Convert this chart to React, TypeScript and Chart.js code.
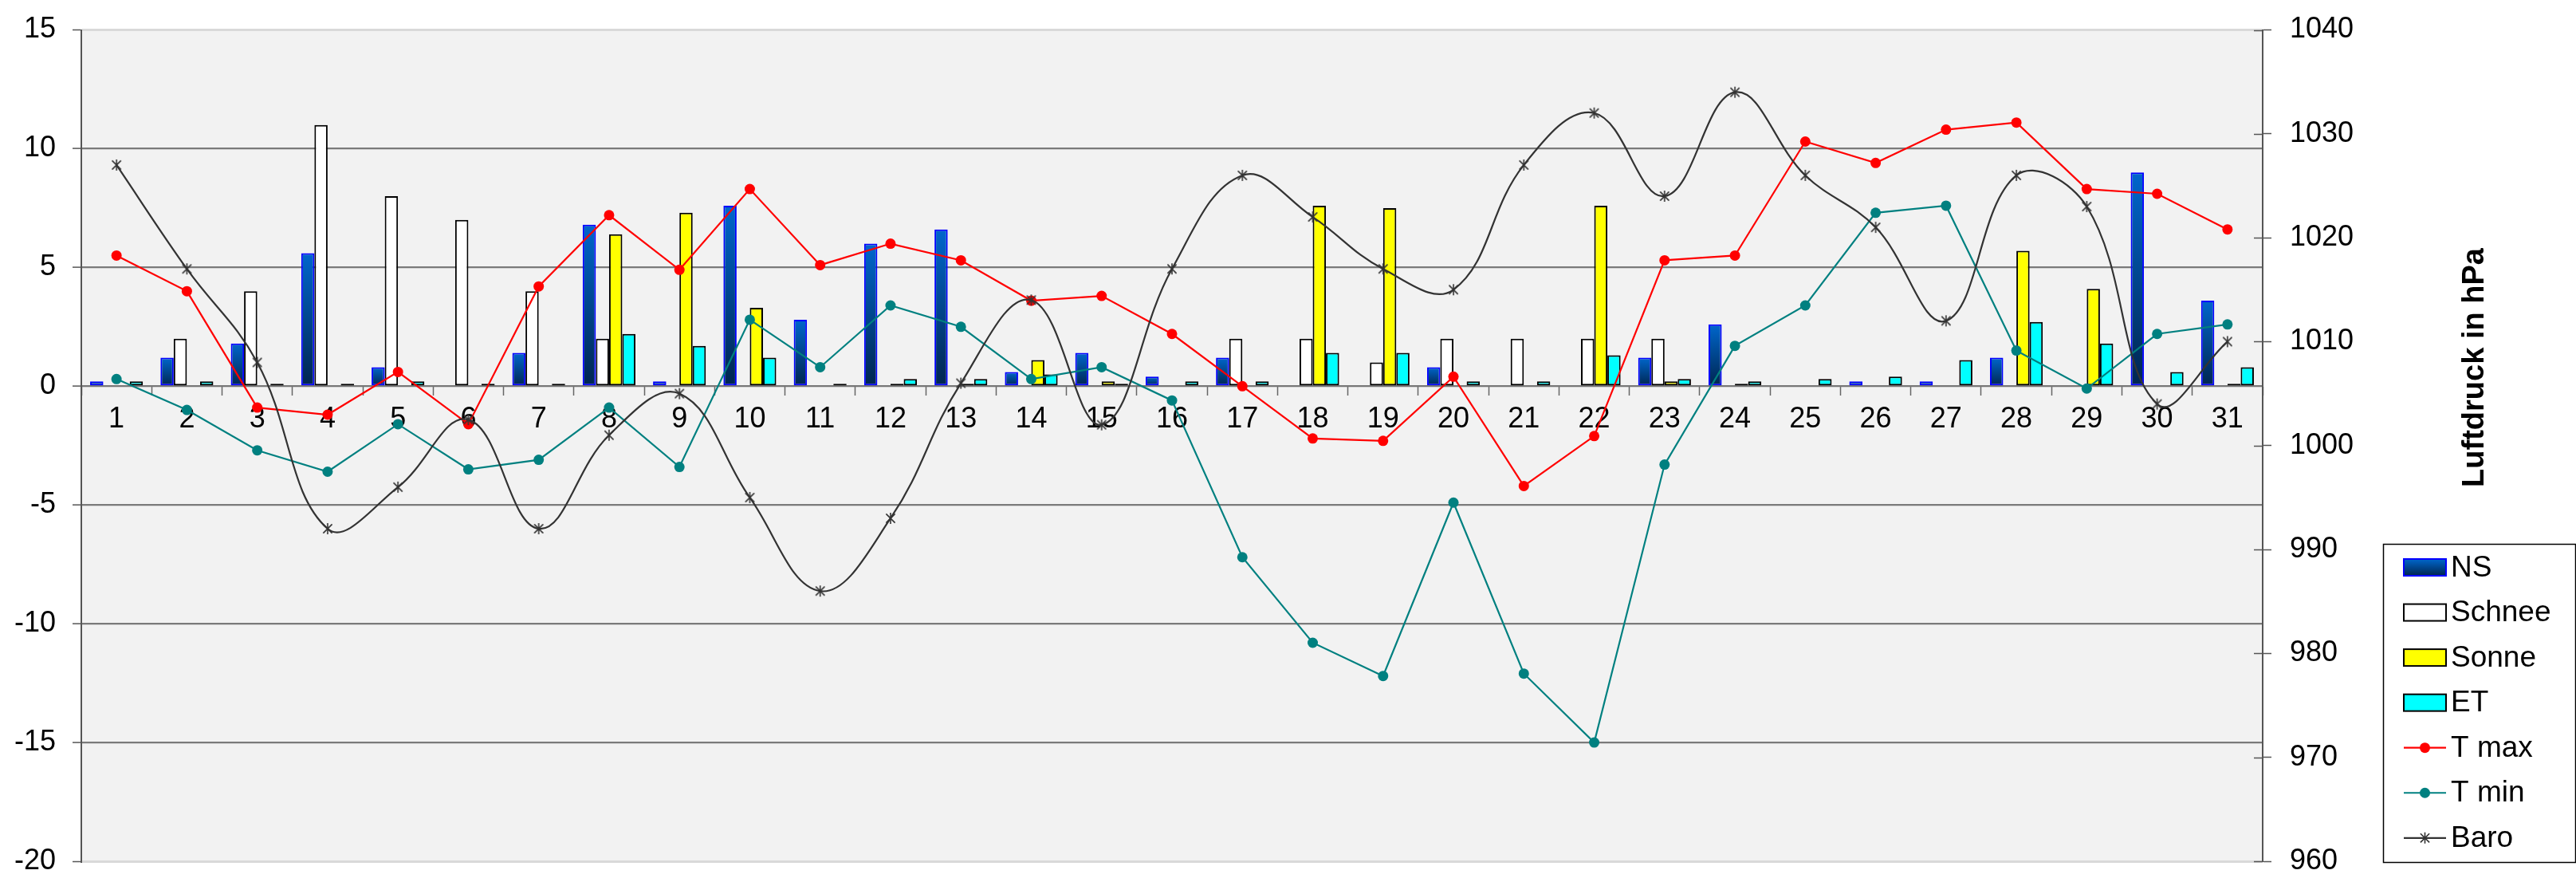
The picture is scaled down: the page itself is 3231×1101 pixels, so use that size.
import { useEffect, useRef } from 'react';
import { Chart, registerables } from 'chart.js';

Chart.register(...registerables);

const days = ['1','2','3','4','5','6','7','8','9','10','11','12','13','14','15','16','17','18','19','20','21','22','23','24','25','26','27','28','29','30','31'];

const nsValues = [0.2,1.2,1.8,5.6,0.8,0,1.4,6.8,0.2,7.6,2.8,6.0,6.6,0.6,1.4,0.4,1.2,0,0,0.8,0,0,1.2,2.6,0,0.2,0.2,1.2,0,9.0,3.6];
const schneeValues = [0,2,4,11,8,7,4,2,0,0,0,0,0,0,0,0,2,2,1,2,2,2,2,0,0,0,0,0,0,0,0];
const sonneValues = [0,0,0,0,0,0,0,6.4,7.3,3.3,0,0.1,0.1,1.1,0.2,0,0,7.6,7.5,0,0,7.6,0.2,0.1,0,0,0,5.7,4.1,0,0.1];
const etValues = [0.2,0.2,0.1,0.1,0.2,0.1,0.1,2.2,1.7,1.2,0.1,0.3,0.3,0.5,0.1,0.2,0.2,1.4,1.4,0.2,0.2,1.3,0.3,0.2,0.3,0.4,1.1,2.7,1.8,0.6,0.8];
const tMaxValues = [5.5,4.0,-0.9,-1.2,0.6,-1.6,4.2,7.2,4.9,8.3,5.1,6.0,5.3,3.6,3.8,2.2,0.0,-2.2,-2.3,0.4,-4.2,-2.1,5.3,5.5,10.3,9.4,10.8,11.1,8.3,8.1,6.6];
const tMinValues = [0.3,-1.0,-2.7,-3.6,-1.6,-3.5,-3.1,-0.9,-3.4,2.8,0.8,3.4,2.5,0.3,0.8,-0.6,-7.2,-10.8,-12.2,-4.9,-12.1,-15.0,-3.3,1.7,3.4,7.3,7.6,1.5,-0.1,2.2,2.6];
const baroValues = [1027,1017,1008,992,996,1002.5,992,1001,1005,995,986,993,1006,1014,1002,1017,1026,1022,1017,1015,1027,1032,1024,1034,1026,1021,1012,1026,1023,1004,1010];

const leftTicks = { min: -20, max: 15, step: 5 };
const rightTicks = { min: 960, max: 1040, step: 10 };
const rightAxisTitle = 'Luftdruck in hPa';

const FONT = "'Liberation Sans', Arial, sans-serif";
const NS_TOP = '#0066cc';
const NS_BOTTOM = '#00254f';
const BARO_COLOR = '#333333';

function nsGradient(ctx: any) {
  const chart = ctx.chart;
  const area = chart.chartArea;
  if (!area || ctx.type !== 'data') return NS_TOP;
  const v = ctx.raw as number;
  const y = chart.scales.y;
  const top = y.getPixelForValue(v);
  const base = y.getPixelForValue(0);
  if (!isFinite(top) || Math.abs(base - top) < 1) return NS_TOP;
  const g = chart.ctx.createLinearGradient(0, top, 0, base);
  g.addColorStop(0, NS_TOP);
  g.addColorStop(1, NS_BOTTOM);
  return g;
}

function drawStar(ctx: CanvasRenderingContext2D, x: number, y: number, r: number) {
  ctx.beginPath();
  ctx.moveTo(x, y - r); ctx.lineTo(x, y + r);
  const d = r * 0.8;
  ctx.moveTo(x - d, y - d); ctx.lineTo(x + d, y + d);
  ctx.moveTo(x - d, y + d); ctx.lineTo(x + d, y - d);
  ctx.stroke();
}

function makeStarImage(): HTMLCanvasElement {
  const c = document.createElement('canvas');
  c.width = 18; c.height = 18;
  const g = c.getContext('2d')!;
  g.strokeStyle = BARO_COLOR;
  g.lineWidth = 1.6;
  drawStar(g, 9, 9, 7);
  return c;
}

const bgPlugin = {
  id: 'bgPlugin',
  beforeDraw(chart: any) {
    const { ctx, chartArea } = chart;
    ctx.save();
    ctx.fillStyle = '#ffffff';
    ctx.fillRect(0, 0, chart.width, chart.height);
    ctx.fillStyle = '#f2f2f2';
    ctx.fillRect(chartArea.left, chartArea.top, chartArea.right - chartArea.left, chartArea.bottom - chartArea.top);
    ctx.restore();
  },
};

const innerTickPlugin = {
  id: 'innerTicks',
  afterDatasetsDraw(chart: any) {
    const s = chart.scales.y1;
    if (!s) return;
    const ctx = chart.ctx;
    ctx.save();
    ctx.strokeStyle = '#555';
    ctx.lineWidth = 1.5;
    s.ticks.forEach((t: any) => {
      const py = Math.round(s.getPixelForValue(t.value)) + 0.5;
      ctx.beginPath();
      ctx.moveTo(s.left - 11, py);
      ctx.lineTo(s.left, py);
      ctx.stroke();
    });
    ctx.restore();
  },
};

const titlePlugin = {
  id: 'rightTitle',
  afterDraw(chart: any) {
    const ctx = chart.ctx;
    ctx.save();
    ctx.translate(3105, 461);
    ctx.rotate(-Math.PI / 2);
    ctx.font = `bold 38px ${FONT}`;
    ctx.fillStyle = '#000';
    ctx.textAlign = 'center';
    ctx.textBaseline = 'middle';
    ctx.fillText(rightAxisTitle, 0, 0);
    ctx.restore();
  },
};

const legendPlugin = {
  id: 'boxLegend',
  afterDraw(chart: any) {
    const ctx: CanvasRenderingContext2D = chart.ctx;
    const bx = 2989, by = 682, bw = 241, bh = 399;
    ctx.save();
    ctx.fillStyle = '#ffffff';
    ctx.fillRect(bx, by, bw, bh);
    ctx.strokeStyle = '#000';
    ctx.lineWidth = 1.5;
    ctx.strokeRect(bx + 0.5, by + 0.5, bw, bh);
    const sx = 3015, sw = 53, sh = 21, step = 56.55, y0 = 711.5;
    ctx.font = `37px ${FONT}`;
    ctx.textBaseline = 'middle';
    ctx.textAlign = 'left';
    chart.data.datasets.forEach((ds: any, i: number) => {
      const cy = y0 + i * step;
      if (ds.type === 'bar') {
        if (ds.label === 'NS') {
          const g = ctx.createLinearGradient(0, cy - sh / 2, 0, cy + sh / 2);
          g.addColorStop(0, NS_TOP);
          g.addColorStop(1, NS_BOTTOM);
          ctx.fillStyle = g;
        } else {
          ctx.fillStyle = ds.backgroundColor;
        }
        ctx.fillRect(sx, cy - sh / 2, sw, sh);
        ctx.strokeStyle = ds.borderColor;
        ctx.lineWidth = 2;
        ctx.strokeRect(sx, cy - sh / 2, sw, sh);
      } else {
        ctx.strokeStyle = ds.borderColor;
        ctx.lineWidth = 2.2;
        ctx.beginPath();
        ctx.moveTo(sx, cy);
        ctx.lineTo(sx + sw, cy);
        ctx.stroke();
        if (ds.label === 'Baro') {
          ctx.lineWidth = 1.6;
          drawStar(ctx, sx + sw / 2, cy, 7);
        } else {
          ctx.fillStyle = ds.pointBackgroundColor;
          ctx.beginPath();
          ctx.arc(sx + sw / 2, cy, 6.5, 0, Math.PI * 2);
          ctx.fill();
        }
      }
      ctx.fillStyle = '#000';
      ctx.fillText(ds.label, 3074, cy + 1);
    });
    ctx.restore();
  },
};

export default function App() {
  const ref = useRef<HTMLCanvasElement>(null);
  useEffect(() => {
    if (!ref.current) return;
    const starImg = makeStarImage();
    const chart = new Chart(ref.current, {
      type: 'bar',
      data: {
        labels: days,
        datasets: [
          { type: 'bar', label: 'NS', data: nsValues, backgroundColor: nsGradient as any, borderColor: '#0000ff', borderWidth: 2, borderSkipped: false, yAxisID: 'y', order: 5, categoryPercentage: 0.75, barPercentage: 1.0 } as any,
          { type: 'bar', label: 'Schnee', data: schneeValues, backgroundColor: '#ffffff', borderColor: '#000000', borderWidth: 2, borderSkipped: false, yAxisID: 'y', order: 5, categoryPercentage: 0.75, barPercentage: 1.0 } as any,
          { type: 'bar', label: 'Sonne', data: sonneValues, backgroundColor: '#ffff00', borderColor: '#000000', borderWidth: 2, borderSkipped: false, yAxisID: 'y', order: 5, categoryPercentage: 0.75, barPercentage: 1.0 } as any,
          { type: 'bar', label: 'ET', data: etValues, backgroundColor: '#00ffff', borderColor: '#000000', borderWidth: 2, borderSkipped: false, yAxisID: 'y', order: 5, categoryPercentage: 0.75, barPercentage: 1.0 } as any,
          { type: 'line', label: 'T max', data: tMaxValues, borderColor: '#ff0000', backgroundColor: '#ff0000', pointBackgroundColor: '#ff0000', pointBorderColor: '#ff0000', pointRadius: 6.5, pointBorderWidth: 0, pointStyle: 'circle', borderWidth: 2.2, tension: 0, yAxisID: 'y', order: 2 } as any,
          { type: 'line', label: 'T min', data: tMinValues, borderColor: '#008080', backgroundColor: '#008080', pointBackgroundColor: '#008080', pointBorderColor: '#008080', pointRadius: 6.5, pointBorderWidth: 0, pointStyle: 'circle', borderWidth: 2.2, tension: 0, yAxisID: 'y', order: 1 } as any,
          { type: 'line', label: 'Baro', data: baroValues, borderColor: BARO_COLOR, backgroundColor: BARO_COLOR, pointStyle: starImg, pointRadius: 7, borderWidth: 2.2, tension: 0.4, yAxisID: 'y1', order: 0 } as any,
        ],
      },
      options: {
        animation: false,
        responsive: false,
        devicePixelRatio: 1,
        layout: { padding: { top: 37.5, bottom: 21, left: 0, right: 0 } },
        plugins: { legend: { display: false }, tooltip: { enabled: false }, title: { display: false } },
        scales: {
          x: {
            type: 'category',
            position: { y: 0 } as any,
            offset: true,
            grid: { offset: true, drawOnChartArea: false, drawTicks: true, tickLength: 11, tickColor: '#666', tickWidth: 1.5 },
            border: { display: true, color: '#777', width: 2 },
            ticks: { color: '#000', font: { size: 36, family: FONT }, padding: 9, maxRotation: 0, autoSkip: false },
          },
          y: {
            type: 'linear',
            position: 'left',
            min: leftTicks.min,
            max: leftTicks.max,
            ticks: { stepSize: leftTicks.step, color: '#000', font: { size: 36, family: FONT }, padding: 21 },
            grid: {
              color: (c: any) => (c.tick && (c.tick.value === leftTicks.max || c.tick.value === leftTicks.min) ? '#d9d9d9' : '#7a7a7a'),
              lineWidth: (c: any) => (c.tick && (c.tick.value === leftTicks.max || c.tick.value === leftTicks.min) ? 3 : 2.2),
              tickColor: '#555',
              tickLength: 11,
              tickWidth: 1.5,
            },
            border: { display: true, color: '#555', width: 2 },
            afterFit: (s: any) => { s.width = 102; s.paddingTop = 0; s.paddingBottom = 0; },
          },
          y1: {
            type: 'linear',
            position: 'right',
            min: rightTicks.min,
            max: rightTicks.max,
            ticks: { stepSize: rightTicks.step, color: '#000', font: { size: 36, family: FONT }, padding: 23, callback: (v: any) => String(v) },
            grid: { drawOnChartArea: false, tickColor: '#555', tickLength: 11, tickWidth: 1.5 },
            border: { display: true, color: '#555', width: 2 },
            afterFit: (s: any) => { s.width = 393; s.paddingTop = 0; s.paddingBottom = 0; },
          },
        },
      },
      plugins: [bgPlugin, innerTickPlugin, titlePlugin, legendPlugin],
    } as any);
    return () => chart.destroy();
  }, []);
  return (
    <div style={{ position: 'fixed', left: 0, top: 0, width: 3231, height: 1101, background: '#fff' }}>
      <canvas ref={ref} width={3231} height={1101} style={{ display: 'block' }} />
    </div>
  );
}
